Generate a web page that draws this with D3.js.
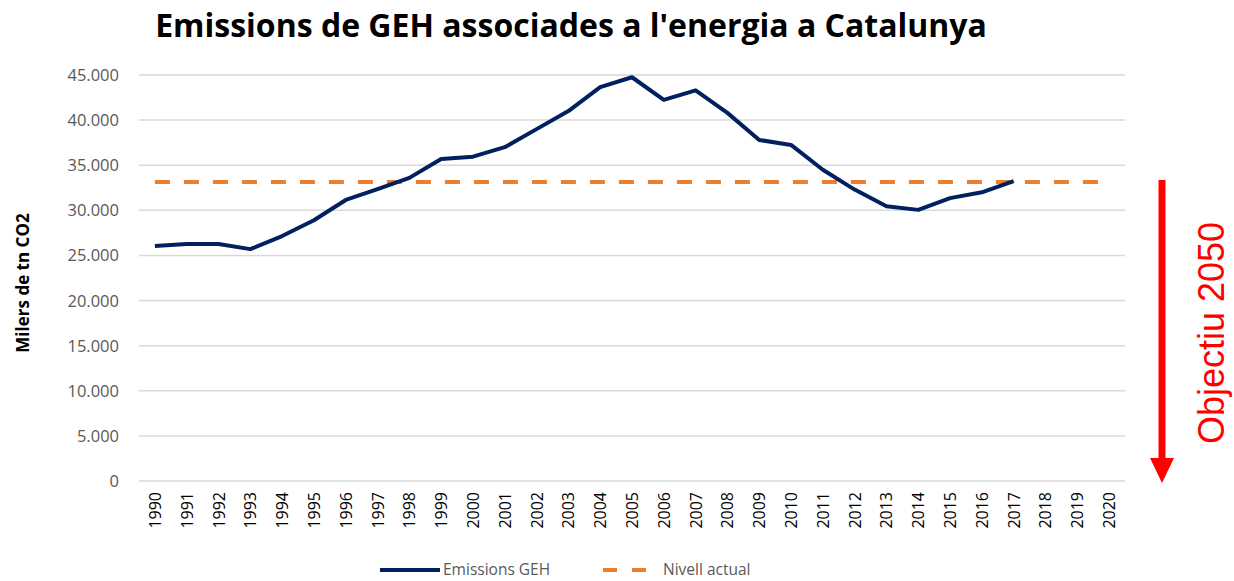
<!DOCTYPE html>
<html>
<head>
<meta charset="utf-8">
<script src="https://cdn.jsdelivr.net/npm/d3@7"></script>
<style>
  body { margin: 0; background: #fff; }
  text { font-family: "Open Sans", "Liberation Sans", sans-serif; }
</style>
</head>
<body>
<svg width="1234" height="581"></svg>
<script>
// The svg
var svg = d3.select("svg"),
    width = +svg.attr("width"),
    height = +svg.attr("height");

// Data
var years = d3.range(1990, 2021).map(String);
var emissionYears = d3.range(1990, 2018).map(String);
var emissions = [26050, 26270, 26270, 25700, 27150, 28900, 31150, 32350, 33600, 35700,
                 35950, 37000, 39000, 41000, 43650, 44750, 42250, 43300, 40800, 37800,
                 37250, 34500, 32300, 30450, 30050, 31350, 32000, 33250];
var nivellActual = 33150;
var yTicks = [0, 5000, 10000, 15000, 20000, 25000, 30000, 35000, 40000, 45000];

// Scales
var x = d3.scaleBand().domain(years).range([139, 1125]);
var y = d3.scaleLinear().domain([0, 45000]).range([481, 75]);
var cx = function (d) { return x(d) + x.bandwidth() / 2; };

var fmt = function (d) { return d3.format(",")(d).replace(/,/g, "."); };

// Title
svg.append("text")
    .attr("x", 571).attr("y", 37)
    .attr("text-anchor", "middle")
    .attr("font-size", 32)
    .attr("font-weight", "bold")
    .attr("fill", "#000")
    .text("Emissions de GEH associades a l'energia a Catalunya");

// Gridlines
svg.append("g")
    .selectAll("line")
    .data(yTicks)
    .enter().append("line")
        .attr("x1", 139).attr("x2", 1125)
        .attr("y1", function (d) { return y(d); })
        .attr("y2", function (d) { return y(d); })
        .attr("stroke", "#d9d9d9")
        .attr("stroke-width", 1.5);

// Y axis labels
svg.append("g")
    .selectAll("text")
    .data(yTicks)
    .enter().append("text")
        .attr("x", 119)
        .attr("y", function (d) { return y(d) + 6; })
        .attr("text-anchor", "end")
        .attr("font-size", 16.5)
        .attr("fill", "#595959")
        .text(fmt);

svg.append("text")
    .attr("transform", "translate(29,283) rotate(-90)")
    .attr("text-anchor", "middle")
    .attr("font-size", 17)
    .attr("font-weight", "bold")
    .attr("fill", "#000")
    .text("Milers de tn CO2");

// X axis labels
svg.append("g")
    .selectAll("text")
    .data(years)
    .enter().append("text")
        .attr("transform", function (d) { return "translate(" + (cx(d) + 6) + ",492) rotate(-90)"; })
        .attr("text-anchor", "end")
        .attr("font-size", 16)
        .attr("fill", "#000")
        .text(function (d) { return d; });

// Nivell actual
svg.append("line")
    .attr("x1", cx("1990")).attr("x2", cx("2020"))
    .attr("y1", y(nivellActual)).attr("y2", y(nivellActual))
    .attr("stroke", "#ED7D31")
    .attr("stroke-width", 4)
    .attr("stroke-dasharray", "15,14");

// Emissions line
var line = d3.line()
    .x(function (d, i) { return cx(emissionYears[i]); })
    .y(function (d) { return y(d); });
svg.append("path")
    .datum(emissions)
    .attr("d", line)
    .attr("fill", "none")
    .attr("stroke", "#002060")
    .attr("stroke-width", 4)
    .attr("stroke-linejoin", "round");

// Legend
var lg = svg.append("g").attr("transform", "translate(0,570)");
lg.append("line").attr("x1", 380).attr("x2", 440).attr("y1", 0).attr("y2", 0)
    .attr("stroke", "#002060").attr("stroke-width", 4);
lg.append("text").attr("x", 443).attr("y", 5).attr("font-size", 15.5).attr("fill", "#595959")
    .text("Emissions GEH");
lg.append("line").attr("x1", 603).attr("x2", 650).attr("y1", 0).attr("y2", 0)
    .attr("stroke", "#ED7D31").attr("stroke-width", 4).attr("stroke-dasharray", "14,15");
lg.append("text").attr("x", 663).attr("y", 5).attr("font-size", 15.5).attr("fill", "#595959")
    .text("Nivell actual");

// Objectiu 2050 arrow
var ax = 1162;
svg.append("line")
    .attr("x1", ax).attr("x2", ax)
    .attr("y1", y(nivellActual) - 2).attr("y2", 460)
    .attr("stroke", "#ff0000")
    .attr("stroke-width", 7);
svg.append("path")
    .attr("d", "M" + (ax - 12) + ",458 L" + (ax + 12) + ",458 L" + ax + ",483 Z")
    .attr("fill", "#ff0000");
svg.append("text")
    .attr("transform", "translate(1224,333) rotate(-90)")
    .attr("text-anchor", "middle")
    .attr("font-size", 36)
    .style("font-family", "'Liberation Sans', Arial, sans-serif")
    .attr("fill", "#ff0000")
    .text("Objectiu 2050");
</script>
</body>
</html>
